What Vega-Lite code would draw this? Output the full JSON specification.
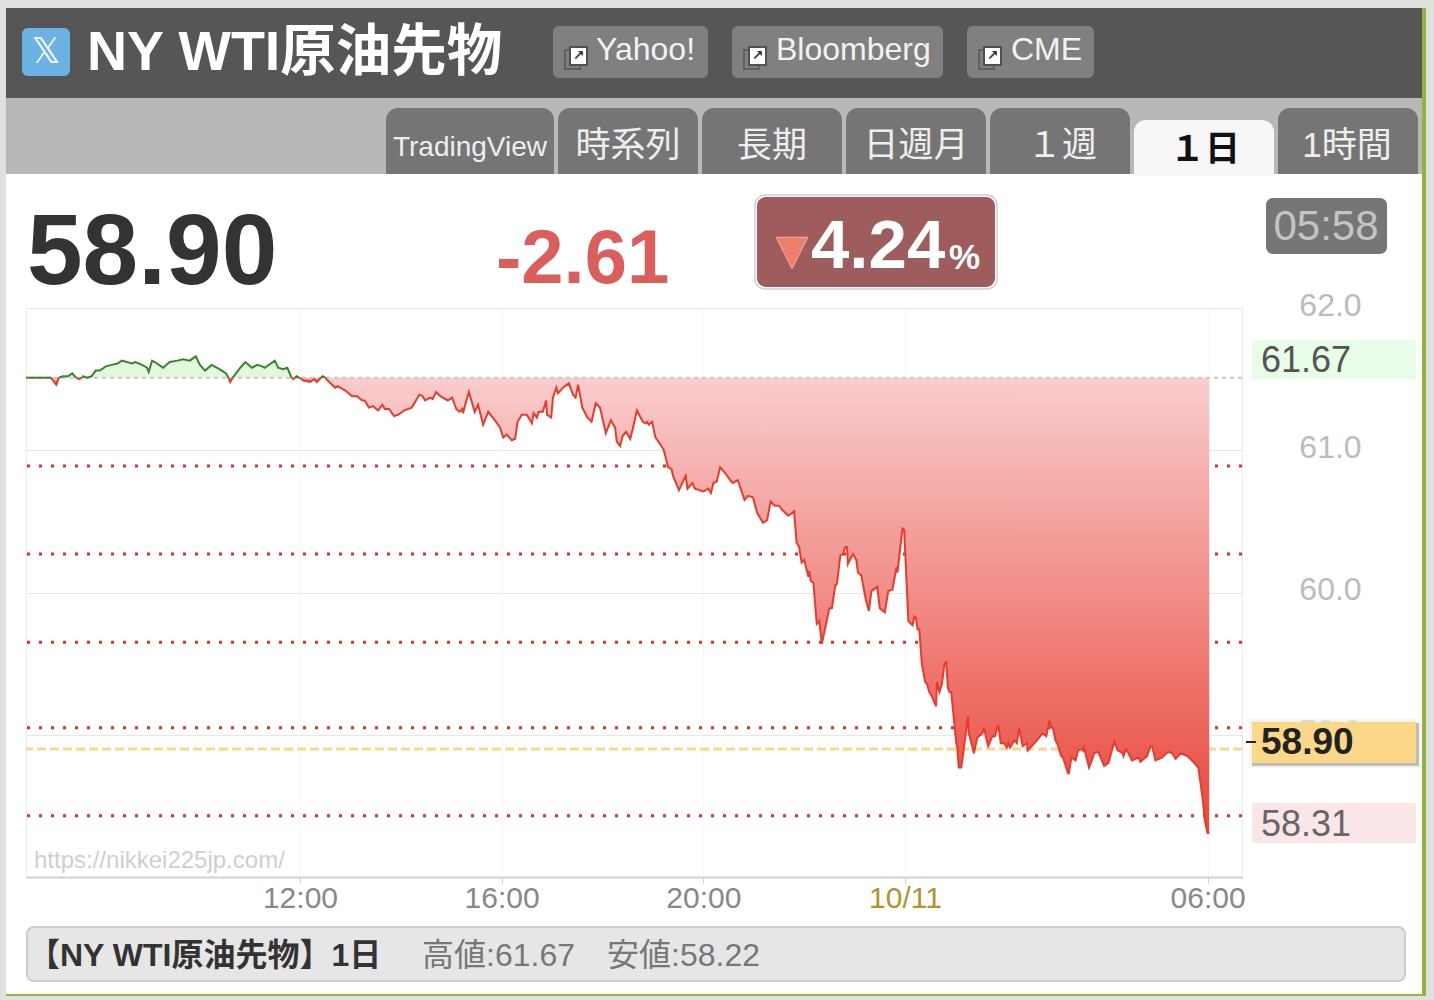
{"$schema":"https://vega.github.io/schema/vega-lite/v6.json","autosize":{"type":"none"},"width":1216,"height":569,"padding":{"left":26,"top":308,"right":192,"bottom":123},"background":"#ffffff","config":{"view":{"stroke":"#ececec"},"font":"Liberation Sans, Noto Sans CJK JP"},
"datasets":{"levels":[{"v":60.89},{"v":60.27},{"v":59.65},{"v":59.05},{"v":58.43}],"last":[{"v":58.90}],"prev":[{"v":61.51}],
"prices":[
{"t":"2025-10-10T06:34","p":61.51,"seg":1,"dir":"up"},{"t":"2025-10-10T07:00","p":61.51,"seg":1,"dir":"up"},{"t":"2025-10-10T07:04","p":61.51,"seg":1,"dir":"up"},
{"t":"2025-10-10T07:04","p":61.51,"seg":2,"dir":"down"},{"t":"2025-10-10T07:06","p":61.49,"seg":2,"dir":"down"},{"t":"2025-10-10T07:10","p":61.46,"seg":2,"dir":"down"},{"t":"2025-10-10T07:13","p":61.51,"seg":2,"dir":"down"},
{"t":"2025-10-10T07:13","p":61.51,"seg":3,"dir":"up"},{"t":"2025-10-10T07:18","p":61.52,"seg":3,"dir":"up"},{"t":"2025-10-10T07:24","p":61.52,"seg":3,"dir":"up"},{"t":"2025-10-10T07:29","p":61.54,"seg":3,"dir":"up"},{"t":"2025-10-10T07:32","p":61.52,"seg":3,"dir":"up"},{"t":"2025-10-10T07:34","p":61.51,"seg":3,"dir":"up"},
{"t":"2025-10-10T07:34","p":61.51,"seg":4,"dir":"down"},{"t":"2025-10-10T07:37","p":61.50,"seg":4,"dir":"down"},{"t":"2025-10-10T07:41","p":61.51,"seg":4,"dir":"down"},
{"t":"2025-10-10T07:41","p":61.51,"seg":5,"dir":"up"},{"t":"2025-10-10T07:42","p":61.52,"seg":5,"dir":"up"},{"t":"2025-10-10T07:46","p":61.51,"seg":5,"dir":"up"},{"t":"2025-10-10T07:52","p":61.52,"seg":5,"dir":"up"},{"t":"2025-10-10T07:57","p":61.56,"seg":5,"dir":"up"},{"t":"2025-10-10T08:02","p":61.56,"seg":5,"dir":"up"},{"t":"2025-10-10T08:09","p":61.59,"seg":5,"dir":"up"},{"t":"2025-10-10T08:16","p":61.60,"seg":5,"dir":"up"},{"t":"2025-10-10T08:23","p":61.61,"seg":5,"dir":"up"},{"t":"2025-10-10T08:28","p":61.63,"seg":5,"dir":"up"},{"t":"2025-10-10T08:34","p":61.62,"seg":5,"dir":"up"},{"t":"2025-10-10T08:40","p":61.61,"seg":5,"dir":"up"},{"t":"2025-10-10T08:44","p":61.62,"seg":5,"dir":"up"},{"t":"2025-10-10T08:52","p":61.60,"seg":5,"dir":"up"},{"t":"2025-10-10T08:58","p":61.58,"seg":5,"dir":"up"},{"t":"2025-10-10T09:00","p":61.55,"seg":5,"dir":"up"},{"t":"2025-10-10T09:04","p":61.63,"seg":5,"dir":"up"},{"t":"2025-10-10T09:10","p":61.61,"seg":5,"dir":"up"},{"t":"2025-10-10T09:17","p":61.58,"seg":5,"dir":"up"},{"t":"2025-10-10T09:25","p":61.62,"seg":5,"dir":"up"},{"t":"2025-10-10T09:34","p":61.63,"seg":5,"dir":"up"},{"t":"2025-10-10T09:41","p":61.64,"seg":5,"dir":"up"},{"t":"2025-10-10T09:49","p":61.63,"seg":5,"dir":"up"},{"t":"2025-10-10T09:56","p":61.66,"seg":5,"dir":"up"},{"t":"2025-10-10T10:01","p":61.60,"seg":5,"dir":"up"},{"t":"2025-10-10T10:07","p":61.56,"seg":5,"dir":"up"},{"t":"2025-10-10T10:15","p":61.60,"seg":5,"dir":"up"},{"t":"2025-10-10T10:21","p":61.58,"seg":5,"dir":"up"},{"t":"2025-10-10T10:27","p":61.56,"seg":5,"dir":"up"},{"t":"2025-10-10T10:32","p":61.54,"seg":5,"dir":"up"},{"t":"2025-10-10T10:35","p":61.51,"seg":5,"dir":"up"},
{"t":"2025-10-10T10:35","p":61.51,"seg":6,"dir":"down"},{"t":"2025-10-10T10:37","p":61.48,"seg":6,"dir":"down"},{"t":"2025-10-10T10:40","p":61.51,"seg":6,"dir":"down"},
{"t":"2025-10-10T10:40","p":61.51,"seg":7,"dir":"up"},{"t":"2025-10-10T10:49","p":61.58,"seg":7,"dir":"up"},{"t":"2025-10-10T10:55","p":61.62,"seg":7,"dir":"up"},{"t":"2025-10-10T11:03","p":61.58,"seg":7,"dir":"up"},{"t":"2025-10-10T11:09","p":61.60,"seg":7,"dir":"up"},{"t":"2025-10-10T11:15","p":61.59,"seg":7,"dir":"up"},{"t":"2025-10-10T11:18","p":61.58,"seg":7,"dir":"up"},{"t":"2025-10-10T11:30","p":61.63,"seg":7,"dir":"up"},{"t":"2025-10-10T11:34","p":61.58,"seg":7,"dir":"up"},{"t":"2025-10-10T11:40","p":61.57,"seg":7,"dir":"up"},{"t":"2025-10-10T11:45","p":61.58,"seg":7,"dir":"up"},{"t":"2025-10-10T11:50","p":61.51,"seg":7,"dir":"up"},
{"t":"2025-10-10T11:50","p":61.51,"seg":8,"dir":"down"},{"t":"2025-10-10T11:52","p":61.50,"seg":8,"dir":"down"},{"t":"2025-10-10T11:54","p":61.51,"seg":8,"dir":"down"},
{"t":"2025-10-10T11:54","p":61.51,"seg":9,"dir":"up"},{"t":"2025-10-10T11:56","p":61.52,"seg":9,"dir":"up"},{"t":"2025-10-10T11:59","p":61.51,"seg":9,"dir":"up"},
{"t":"2025-10-10T11:59","p":61.51,"seg":10,"dir":"down"},{"t":"2025-10-10T12:02","p":61.50,"seg":10,"dir":"down"},{"t":"2025-10-10T12:04","p":61.49,"seg":10,"dir":"down"},{"t":"2025-10-10T12:12","p":61.48,"seg":10,"dir":"down"},{"t":"2025-10-10T12:17","p":61.50,"seg":10,"dir":"down"},{"t":"2025-10-10T12:20","p":61.48,"seg":10,"dir":"down"},{"t":"2025-10-10T12:25","p":61.51,"seg":10,"dir":"down"},
{"t":"2025-10-10T12:25","p":61.51,"seg":11,"dir":"up"},{"t":"2025-10-10T12:27","p":61.52,"seg":11,"dir":"up"},{"t":"2025-10-10T12:30","p":61.51,"seg":11,"dir":"up"},
{"t":"2025-10-10T12:30","p":61.51,"seg":12,"dir":"down"},{"t":"2025-10-10T12:33","p":61.49,"seg":12,"dir":"down"},{"t":"2025-10-10T12:42","p":61.44,"seg":12,"dir":"down"},{"t":"2025-10-10T12:45","p":61.45,"seg":12,"dir":"down"},{"t":"2025-10-10T12:54","p":61.42,"seg":12,"dir":"down"},{"t":"2025-10-10T13:02","p":61.38,"seg":12,"dir":"down"},{"t":"2025-10-10T13:08","p":61.38,"seg":12,"dir":"down"},{"t":"2025-10-10T13:14","p":61.35,"seg":12,"dir":"down"},{"t":"2025-10-10T13:17","p":61.35,"seg":12,"dir":"down"},{"t":"2025-10-10T13:22","p":61.30,"seg":12,"dir":"down"},{"t":"2025-10-10T13:27","p":61.31,"seg":12,"dir":"down"},{"t":"2025-10-10T13:33","p":61.28,"seg":12,"dir":"down"},{"t":"2025-10-10T13:38","p":61.32,"seg":12,"dir":"down"},{"t":"2025-10-10T13:41","p":61.29,"seg":12,"dir":"down"},{"t":"2025-10-10T13:46","p":61.29,"seg":12,"dir":"down"},{"t":"2025-10-10T13:52","p":61.24,"seg":12,"dir":"down"},{"t":"2025-10-10T13:57","p":61.25,"seg":12,"dir":"down"},{"t":"2025-10-10T14:04","p":61.28,"seg":12,"dir":"down"},{"t":"2025-10-10T14:13","p":61.30,"seg":12,"dir":"down"},{"t":"2025-10-10T14:22","p":61.39,"seg":12,"dir":"down"},{"t":"2025-10-10T14:26","p":61.38,"seg":12,"dir":"down"},{"t":"2025-10-10T14:29","p":61.35,"seg":12,"dir":"down"},{"t":"2025-10-10T14:35","p":61.37,"seg":12,"dir":"down"},{"t":"2025-10-10T14:38","p":61.36,"seg":12,"dir":"down"},{"t":"2025-10-10T14:42","p":61.41,"seg":12,"dir":"down"},{"t":"2025-10-10T14:47","p":61.38,"seg":12,"dir":"down"},{"t":"2025-10-10T14:56","p":61.35,"seg":12,"dir":"down"},{"t":"2025-10-10T15:01","p":61.37,"seg":12,"dir":"down"},{"t":"2025-10-10T15:06","p":61.29,"seg":12,"dir":"down"},{"t":"2025-10-10T15:10","p":61.27,"seg":12,"dir":"down"},{"t":"2025-10-10T15:13","p":61.29,"seg":12,"dir":"down"},{"t":"2025-10-10T15:14","p":61.26,"seg":12,"dir":"down"},{"t":"2025-10-10T15:18","p":61.35,"seg":12,"dir":"down"},{"t":"2025-10-10T15:21","p":61.41,"seg":12,"dir":"down"},{"t":"2025-10-10T15:28","p":61.27,"seg":12,"dir":"down"},{"t":"2025-10-10T15:32","p":61.32,"seg":12,"dir":"down"},{"t":"2025-10-10T15:38","p":61.18,"seg":12,"dir":"down"},{"t":"2025-10-10T15:44","p":61.27,"seg":12,"dir":"down"},{"t":"2025-10-10T15:52","p":61.21,"seg":12,"dir":"down"},{"t":"2025-10-10T15:58","p":61.16,"seg":12,"dir":"down"},{"t":"2025-10-10T16:02","p":61.09,"seg":12,"dir":"down"},{"t":"2025-10-10T16:06","p":61.11,"seg":12,"dir":"down"},{"t":"2025-10-10T16:12","p":61.07,"seg":12,"dir":"down"},{"t":"2025-10-10T16:16","p":61.08,"seg":12,"dir":"down"},{"t":"2025-10-10T16:19","p":61.20,"seg":12,"dir":"down"},{"t":"2025-10-10T16:24","p":61.25,"seg":12,"dir":"down"},{"t":"2025-10-10T16:30","p":61.25,"seg":12,"dir":"down"},{"t":"2025-10-10T16:36","p":61.19,"seg":12,"dir":"down"},{"t":"2025-10-10T16:38","p":61.26,"seg":12,"dir":"down"},{"t":"2025-10-10T16:42","p":61.23,"seg":12,"dir":"down"},{"t":"2025-10-10T16:44","p":61.27,"seg":12,"dir":"down"},{"t":"2025-10-10T16:49","p":61.27,"seg":12,"dir":"down"},{"t":"2025-10-10T16:53","p":61.35,"seg":12,"dir":"down"},{"t":"2025-10-10T16:54","p":61.25,"seg":12,"dir":"down"},{"t":"2025-10-10T16:59","p":61.23,"seg":12,"dir":"down"},{"t":"2025-10-10T17:01","p":61.37,"seg":12,"dir":"down"},{"t":"2025-10-10T17:05","p":61.44,"seg":12,"dir":"down"},{"t":"2025-10-10T17:07","p":61.40,"seg":12,"dir":"down"},{"t":"2025-10-10T17:13","p":61.44,"seg":12,"dir":"down"},{"t":"2025-10-10T17:20","p":61.47,"seg":12,"dir":"down"},{"t":"2025-10-10T17:25","p":61.39,"seg":12,"dir":"down"},{"t":"2025-10-10T17:28","p":61.37,"seg":12,"dir":"down"},{"t":"2025-10-10T17:31","p":61.46,"seg":12,"dir":"down"},{"t":"2025-10-10T17:36","p":61.30,"seg":12,"dir":"down"},{"t":"2025-10-10T17:42","p":61.23,"seg":12,"dir":"down"},{"t":"2025-10-10T17:47","p":61.20,"seg":12,"dir":"down"},{"t":"2025-10-10T17:52","p":61.33,"seg":12,"dir":"down"},{"t":"2025-10-10T17:57","p":61.30,"seg":12,"dir":"down"},{"t":"2025-10-10T18:04","p":61.12,"seg":12,"dir":"down"},{"t":"2025-10-10T18:10","p":61.21,"seg":12,"dir":"down"},{"t":"2025-10-10T18:15","p":61.16,"seg":12,"dir":"down"},{"t":"2025-10-10T18:17","p":61.06,"seg":12,"dir":"down"},{"t":"2025-10-10T18:21","p":61.03,"seg":12,"dir":"down"},{"t":"2025-10-10T18:24","p":61.10,"seg":12,"dir":"down"},{"t":"2025-10-10T18:28","p":61.13,"seg":12,"dir":"down"},{"t":"2025-10-10T18:33","p":61.08,"seg":12,"dir":"down"},{"t":"2025-10-10T18:36","p":61.15,"seg":12,"dir":"down"},{"t":"2025-10-10T18:41","p":61.28,"seg":12,"dir":"down"},{"t":"2025-10-10T18:48","p":61.20,"seg":12,"dir":"down"},{"t":"2025-10-10T18:51","p":61.19,"seg":12,"dir":"down"},{"t":"2025-10-10T18:53","p":61.20,"seg":12,"dir":"down"},{"t":"2025-10-10T18:55","p":61.18,"seg":12,"dir":"down"},{"t":"2025-10-10T18:59","p":61.20,"seg":12,"dir":"down"},{"t":"2025-10-10T19:03","p":61.09,"seg":12,"dir":"down"},{"t":"2025-10-10T19:09","p":61.04,"seg":12,"dir":"down"},{"t":"2025-10-10T19:13","p":61.00,"seg":12,"dir":"down"},{"t":"2025-10-10T19:18","p":60.88,"seg":12,"dir":"down"},{"t":"2025-10-10T19:22","p":60.87,"seg":12,"dir":"down"},{"t":"2025-10-10T19:24","p":60.82,"seg":12,"dir":"down"},{"t":"2025-10-10T19:31","p":60.72,"seg":12,"dir":"down"},{"t":"2025-10-10T19:35","p":60.77,"seg":12,"dir":"down"},{"t":"2025-10-10T19:39","p":60.82,"seg":12,"dir":"down"},{"t":"2025-10-10T19:41","p":60.73,"seg":12,"dir":"down"},{"t":"2025-10-10T19:47","p":60.77,"seg":12,"dir":"down"},{"t":"2025-10-10T19:50","p":60.73,"seg":12,"dir":"down"},{"t":"2025-10-10T20:00","p":60.71,"seg":12,"dir":"down"},{"t":"2025-10-10T20:06","p":60.73,"seg":12,"dir":"down"},{"t":"2025-10-10T20:09","p":60.70,"seg":12,"dir":"down"},{"t":"2025-10-10T20:12","p":60.77,"seg":12,"dir":"down"},{"t":"2025-10-10T20:16","p":60.78,"seg":12,"dir":"down"},{"t":"2025-10-10T20:20","p":60.88,"seg":12,"dir":"down"},{"t":"2025-10-10T20:26","p":60.84,"seg":12,"dir":"down"},{"t":"2025-10-10T20:32","p":60.79,"seg":12,"dir":"down"},{"t":"2025-10-10T20:35","p":60.77,"seg":12,"dir":"down"},{"t":"2025-10-10T20:41","p":60.79,"seg":12,"dir":"down"},{"t":"2025-10-10T20:49","p":60.65,"seg":12,"dir":"down"},{"t":"2025-10-10T20:53","p":60.68,"seg":12,"dir":"down"},{"t":"2025-10-10T20:59","p":60.67,"seg":12,"dir":"down"},{"t":"2025-10-10T21:04","p":60.56,"seg":12,"dir":"down"},{"t":"2025-10-10T21:11","p":60.49,"seg":12,"dir":"down"},{"t":"2025-10-10T21:16","p":60.51,"seg":12,"dir":"down"},{"t":"2025-10-10T21:20","p":60.64,"seg":12,"dir":"down"},{"t":"2025-10-10T21:25","p":60.61,"seg":12,"dir":"down"},{"t":"2025-10-10T21:30","p":60.61,"seg":12,"dir":"down"},{"t":"2025-10-10T21:34","p":60.58,"seg":12,"dir":"down"},{"t":"2025-10-10T21:41","p":60.54,"seg":12,"dir":"down"},{"t":"2025-10-10T21:48","p":60.57,"seg":12,"dir":"down"},{"t":"2025-10-10T21:51","p":60.35,"seg":12,"dir":"down"},{"t":"2025-10-10T21:54","p":60.32,"seg":12,"dir":"down"},{"t":"2025-10-10T21:57","p":60.21,"seg":12,"dir":"down"},{"t":"2025-10-10T22:00","p":60.23,"seg":12,"dir":"down"},{"t":"2025-10-10T22:05","p":60.11,"seg":12,"dir":"down"},{"t":"2025-10-10T22:06","p":60.15,"seg":12,"dir":"down"},{"t":"2025-10-10T22:08","p":60.08,"seg":12,"dir":"down"},{"t":"2025-10-10T22:11","p":60.07,"seg":12,"dir":"down"},{"t":"2025-10-10T22:14","p":59.85,"seg":12,"dir":"down"},{"t":"2025-10-10T22:15","p":59.78,"seg":12,"dir":"down"},{"t":"2025-10-10T22:18","p":59.80,"seg":12,"dir":"down"},{"t":"2025-10-10T22:21","p":59.64,"seg":12,"dir":"down"},{"t":"2025-10-10T22:25","p":59.75,"seg":12,"dir":"down"},{"t":"2025-10-10T22:30","p":59.89,"seg":12,"dir":"down"},{"t":"2025-10-10T22:33","p":59.89,"seg":12,"dir":"down"},{"t":"2025-10-10T22:37","p":60.05,"seg":12,"dir":"down"},{"t":"2025-10-10T22:39","p":60.06,"seg":12,"dir":"down"},{"t":"2025-10-10T22:43","p":60.26,"seg":12,"dir":"down"},{"t":"2025-10-10T22:46","p":60.27,"seg":12,"dir":"down"},{"t":"2025-10-10T22:49","p":60.32,"seg":12,"dir":"down"},{"t":"2025-10-10T22:51","p":60.32,"seg":12,"dir":"down"},{"t":"2025-10-10T22:52","p":60.20,"seg":12,"dir":"down"},{"t":"2025-10-10T22:58","p":60.27,"seg":12,"dir":"down"},{"t":"2025-10-10T23:02","p":60.23,"seg":12,"dir":"down"},{"t":"2025-10-10T23:04","p":60.14,"seg":12,"dir":"down"},{"t":"2025-10-10T23:08","p":60.12,"seg":12,"dir":"down"},{"t":"2025-10-10T23:13","p":59.96,"seg":12,"dir":"down"},{"t":"2025-10-10T23:17","p":59.87,"seg":12,"dir":"down"},{"t":"2025-10-10T23:20","p":60.01,"seg":12,"dir":"down"},{"t":"2025-10-10T23:27","p":60.04,"seg":12,"dir":"down"},{"t":"2025-10-10T23:30","p":59.89,"seg":12,"dir":"down"},{"t":"2025-10-10T23:36","p":59.86,"seg":12,"dir":"down"},{"t":"2025-10-10T23:40","p":60.01,"seg":12,"dir":"down"},{"t":"2025-10-10T23:45","p":60.02,"seg":12,"dir":"down"},{"t":"2025-10-10T23:50","p":60.18,"seg":12,"dir":"down"},{"t":"2025-10-10T23:51","p":60.14,"seg":12,"dir":"down"},{"t":"2025-10-10T23:57","p":60.45,"seg":12,"dir":"down"},{"t":"2025-10-10T23:59","p":60.44,"seg":12,"dir":"down"},{"t":"2025-10-11T00:04","p":59.80,"seg":12,"dir":"down"},{"t":"2025-10-11T00:09","p":59.77,"seg":12,"dir":"down"},{"t":"2025-10-11T00:11","p":59.83,"seg":12,"dir":"down"},{"t":"2025-10-11T00:13","p":59.82,"seg":12,"dir":"down"},{"t":"2025-10-11T00:15","p":59.74,"seg":12,"dir":"down"},{"t":"2025-10-11T00:17","p":59.74,"seg":12,"dir":"down"},{"t":"2025-10-11T00:20","p":59.50,"seg":12,"dir":"down"},{"t":"2025-10-11T00:24","p":59.37,"seg":12,"dir":"down"},{"t":"2025-10-11T00:26","p":59.36,"seg":12,"dir":"down"},{"t":"2025-10-11T00:29","p":59.30,"seg":12,"dir":"down"},{"t":"2025-10-11T00:32","p":59.27,"seg":12,"dir":"down"},{"t":"2025-10-11T00:37","p":59.20,"seg":12,"dir":"down"},{"t":"2025-10-11T00:38","p":59.37,"seg":12,"dir":"down"},{"t":"2025-10-11T00:41","p":59.30,"seg":12,"dir":"down"},{"t":"2025-10-11T00:44","p":59.36,"seg":12,"dir":"down"},{"t":"2025-10-11T00:47","p":59.50,"seg":12,"dir":"down"},{"t":"2025-10-11T00:49","p":59.51,"seg":12,"dir":"down"},{"t":"2025-10-11T00:51","p":59.33,"seg":12,"dir":"down"},{"t":"2025-10-11T00:53","p":59.30,"seg":12,"dir":"down"},{"t":"2025-10-11T00:55","p":59.30,"seg":12,"dir":"down"},{"t":"2025-10-11T01:01","p":58.94,"seg":12,"dir":"down"},{"t":"2025-10-11T01:02","p":58.92,"seg":12,"dir":"down"},{"t":"2025-10-11T01:04","p":58.77,"seg":12,"dir":"down"},{"t":"2025-10-11T01:07","p":58.77,"seg":12,"dir":"down"},{"t":"2025-10-11T01:11","p":58.95,"seg":12,"dir":"down"},{"t":"2025-10-11T01:15","p":59.13,"seg":12,"dir":"down"},{"t":"2025-10-11T01:16","p":59.01,"seg":12,"dir":"down"},{"t":"2025-10-11T01:22","p":58.87,"seg":12,"dir":"down"},{"t":"2025-10-11T01:26","p":58.98,"seg":12,"dir":"down"},{"t":"2025-10-11T01:32","p":59.01,"seg":12,"dir":"down"},{"t":"2025-10-11T01:34","p":59.05,"seg":12,"dir":"down"},{"t":"2025-10-11T01:38","p":58.94,"seg":12,"dir":"down"},{"t":"2025-10-11T01:39","p":58.92,"seg":12,"dir":"down"},{"t":"2025-10-11T01:44","p":58.99,"seg":12,"dir":"down"},{"t":"2025-10-11T01:47","p":58.99,"seg":12,"dir":"down"},{"t":"2025-10-11T01:51","p":59.07,"seg":12,"dir":"down"},{"t":"2025-10-11T01:54","p":58.94,"seg":12,"dir":"down"},{"t":"2025-10-11T01:58","p":58.94,"seg":12,"dir":"down"},{"t":"2025-10-11T02:01","p":58.91,"seg":12,"dir":"down"},{"t":"2025-10-11T02:03","p":58.94,"seg":12,"dir":"down"},{"t":"2025-10-11T02:05","p":58.91,"seg":12,"dir":"down"},{"t":"2025-10-11T02:10","p":58.96,"seg":12,"dir":"down"},{"t":"2025-10-11T02:13","p":58.94,"seg":12,"dir":"down"},{"t":"2025-10-11T02:16","p":59.05,"seg":12,"dir":"down"},{"t":"2025-10-11T02:20","p":58.92,"seg":12,"dir":"down"},{"t":"2025-10-11T02:25","p":58.94,"seg":12,"dir":"down"},{"t":"2025-10-11T02:26","p":58.89,"seg":12,"dir":"down"},{"t":"2025-10-11T02:37","p":58.96,"seg":12,"dir":"down"},{"t":"2025-10-11T02:41","p":58.99,"seg":12,"dir":"down"},{"t":"2025-10-11T02:44","p":59.01,"seg":12,"dir":"down"},{"t":"2025-10-11T02:48","p":58.99,"seg":12,"dir":"down"},{"t":"2025-10-11T02:52","p":59.10,"seg":12,"dir":"down"},{"t":"2025-10-11T02:54","p":59.05,"seg":12,"dir":"down"},{"t":"2025-10-11T02:56","p":59.05,"seg":12,"dir":"down"},{"t":"2025-10-11T02:59","p":58.96,"seg":12,"dir":"down"},{"t":"2025-10-11T03:01","p":58.94,"seg":12,"dir":"down"},{"t":"2025-10-11T03:06","p":58.85,"seg":12,"dir":"down"},{"t":"2025-10-11T03:08","p":58.84,"seg":12,"dir":"down"},{"t":"2025-10-11T03:14","p":58.73,"seg":12,"dir":"down"},{"t":"2025-10-11T03:15","p":58.73,"seg":12,"dir":"down"},{"t":"2025-10-11T03:18","p":58.84,"seg":12,"dir":"down"},{"t":"2025-10-11T03:23","p":58.82,"seg":12,"dir":"down"},{"t":"2025-10-11T03:26","p":58.89,"seg":12,"dir":"down"},{"t":"2025-10-11T03:31","p":58.90,"seg":12,"dir":"down"},{"t":"2025-10-11T03:32","p":58.89,"seg":12,"dir":"down"},{"t":"2025-10-11T03:33","p":58.91,"seg":12,"dir":"down"},{"t":"2025-10-11T03:39","p":58.77,"seg":12,"dir":"down"},{"t":"2025-10-11T03:43","p":58.83,"seg":12,"dir":"down"},{"t":"2025-10-11T03:45","p":58.87,"seg":12,"dir":"down"},{"t":"2025-10-11T03:50","p":58.88,"seg":12,"dir":"down"},{"t":"2025-10-11T03:57","p":58.78,"seg":12,"dir":"down"},{"t":"2025-10-11T04:02","p":58.80,"seg":12,"dir":"down"},{"t":"2025-10-11T04:09","p":58.95,"seg":12,"dir":"down"},{"t":"2025-10-11T04:13","p":58.89,"seg":12,"dir":"down"},{"t":"2025-10-11T04:19","p":58.87,"seg":12,"dir":"down"},{"t":"2025-10-11T04:20","p":58.85,"seg":12,"dir":"down"},{"t":"2025-10-11T04:23","p":58.90,"seg":12,"dir":"down"},{"t":"2025-10-11T04:26","p":58.87,"seg":12,"dir":"down"},{"t":"2025-10-11T04:30","p":58.82,"seg":12,"dir":"down"},{"t":"2025-10-11T04:38","p":58.84,"seg":12,"dir":"down"},{"t":"2025-10-11T04:40","p":58.81,"seg":12,"dir":"down"},{"t":"2025-10-11T04:48","p":58.85,"seg":12,"dir":"down"},{"t":"2025-10-11T04:52","p":58.92,"seg":12,"dir":"down"},{"t":"2025-10-11T04:54","p":58.92,"seg":12,"dir":"down"},{"t":"2025-10-11T04:58","p":58.82,"seg":12,"dir":"down"},{"t":"2025-10-11T05:06","p":58.84,"seg":12,"dir":"down"},{"t":"2025-10-11T05:13","p":58.88,"seg":12,"dir":"down"},{"t":"2025-10-11T05:18","p":58.87,"seg":12,"dir":"down"},{"t":"2025-10-11T05:22","p":58.83,"seg":12,"dir":"down"},{"t":"2025-10-11T05:28","p":58.87,"seg":12,"dir":"down"},{"t":"2025-10-11T05:36","p":58.85,"seg":12,"dir":"down"},{"t":"2025-10-11T05:43","p":58.81,"seg":12,"dir":"down"},{"t":"2025-10-11T05:49","p":58.77,"seg":12,"dir":"down"},{"t":"2025-10-11T05:54","p":58.56,"seg":12,"dir":"down"},{"t":"2025-10-11T05:57","p":58.39,"seg":12,"dir":"down"},{"t":"2025-10-11T06:00","p":58.31,"seg":12,"dir":"down"},{"t":"2025-10-11T06:02","p":58.31,"seg":12,"dir":"down"}
]},
"resolve":{"scale":{"x":"independent","y":"independent"}},
"layer":[
{"data":{"values":[{}]},"layer":[
{"mark":{"type":"rect","fill":"#e0e0dc"},"encoding":{"x":{"datum":0,"axis":null,"scale":{"domain":[0,1434],"range":[-26,1408],"nice":false,"zero":false}},"x2":{"datum":6},"y":{"datum":0,"axis":null,"scale":{"domain":[0,1000],"range":[-308,692],"nice":false,"zero":false}},"y2":{"datum":1000}}},
{"mark":{"type":"rect","fill":"#e0e0dc"},"encoding":{"x":{"datum":0,"axis":null},"x2":{"datum":1434},"y":{"datum":0,"axis":null},"y2":{"datum":8}}},
{"mark":{"type":"rect","fill":"#e0e0dc"},"encoding":{"x":{"datum":1426,"axis":null},"x2":{"datum":1434},"y":{"datum":0,"axis":null},"y2":{"datum":1000}}},
{"mark":{"type":"rect","fill":"#e0e0dc"},"encoding":{"x":{"datum":0,"axis":null},"x2":{"datum":1434},"y":{"datum":996,"axis":null},"y2":{"datum":1000}}},
{"mark":{"type":"rect","fill":"#8fb53f"},"encoding":{"x":{"datum":1422,"axis":null},"x2":{"datum":1426},"y":{"datum":8,"axis":null},"y2":{"datum":996}}},
{"mark":{"type":"rect","fill":"#8fb53f"},"encoding":{"x":{"datum":6,"axis":null},"x2":{"datum":1426},"y":{"datum":994,"axis":null},"y2":{"datum":996}}},
{"mark":{"type":"rect","fill":"#565656"},"encoding":{"x":{"datum":6,"axis":null},"x2":{"datum":1422},"y":{"datum":8,"axis":null},"y2":{"datum":98}}},
{"mark":{"type":"rect","fill":"#b8b8b8"},"encoding":{"x":{"datum":6,"axis":null},"x2":{"datum":1422},"y":{"datum":98,"axis":null},"y2":{"datum":174}}},
{"mark":{"type":"rect","fill":"#6cb2e4","cornerRadius":6},"encoding":{"x":{"datum":22,"axis":null},"x2":{"datum":70},"y":{"datum":28,"axis":null},"y2":{"datum":76}}},
{"mark":{"type":"text","text":"𝕏","font":"DejaVu Sans","fontSize":36,"fill":"#ffffff","align":"center","baseline":"middle"},"encoding":{"x":{"datum":46,"axis":null},"y":{"datum":52,"axis":null}}},
{"mark":{"type":"text","text":"NY WTI原油先物","fontSize":55.5,"fontWeight":"bold","fill":"#ffffff","align":"left","baseline":"alphabetic"},"encoding":{"x":{"datum":87,"axis":null},"y":{"datum":70,"axis":null}}},

{"mark":{"type":"rect","fill":"#808080","cornerRadius":6},"encoding":{"x":{"datum":553,"axis":null},"x2":{"datum":708},"y":{"datum":26,"axis":null},"y2":{"datum":78}}},
{"mark":{"type":"rect","fill":"#808080","cornerRadius":6},"encoding":{"x":{"datum":732,"axis":null},"x2":{"datum":943},"y":{"datum":26,"axis":null},"y2":{"datum":78}}},
{"mark":{"type":"rect","fill":"#808080","cornerRadius":6},"encoding":{"x":{"datum":967,"axis":null},"x2":{"datum":1094},"y":{"datum":26,"axis":null},"y2":{"datum":78}}},
{"mark":{"type":"rect","fill":"#808080","stroke":"#555555","strokeWidth":1.5},"encoding":{"x":{"datum":565,"axis":null},"x2":{"datum":580},"y":{"datum":50,"axis":null},"y2":{"datum":69}}},
{"mark":{"type":"rect","fill":"#ffffff","stroke":"#505050","strokeWidth":2},"encoding":{"x":{"datum":570,"axis":null},"x2":{"datum":587},"y":{"datum":47,"axis":null},"y2":{"datum":65}}},
{"mark":{"type":"text","text":"↗","font":"DejaVu Sans","fontSize":14,"fontWeight":"bold","fill":"#333333","align":"center","baseline":"middle"},"encoding":{"x":{"datum":578.5,"axis":null},"y":{"datum":56,"axis":null}}},
{"mark":{"type":"rect","fill":"#808080","stroke":"#555555","strokeWidth":1.5},"encoding":{"x":{"datum":744,"axis":null},"x2":{"datum":759},"y":{"datum":50,"axis":null},"y2":{"datum":69}}},
{"mark":{"type":"rect","fill":"#ffffff","stroke":"#505050","strokeWidth":2},"encoding":{"x":{"datum":749,"axis":null},"x2":{"datum":766},"y":{"datum":47,"axis":null},"y2":{"datum":65}}},
{"mark":{"type":"text","text":"↗","font":"DejaVu Sans","fontSize":14,"fontWeight":"bold","fill":"#333333","align":"center","baseline":"middle"},"encoding":{"x":{"datum":757.5,"axis":null},"y":{"datum":56,"axis":null}}},
{"mark":{"type":"rect","fill":"#808080","stroke":"#555555","strokeWidth":1.5},"encoding":{"x":{"datum":979,"axis":null},"x2":{"datum":994},"y":{"datum":50,"axis":null},"y2":{"datum":69}}},
{"mark":{"type":"rect","fill":"#ffffff","stroke":"#505050","strokeWidth":2},"encoding":{"x":{"datum":984,"axis":null},"x2":{"datum":1001},"y":{"datum":47,"axis":null},"y2":{"datum":65}}},
{"mark":{"type":"text","text":"↗","font":"DejaVu Sans","fontSize":14,"fontWeight":"bold","fill":"#333333","align":"center","baseline":"middle"},"encoding":{"x":{"datum":992.5,"axis":null},"y":{"datum":56,"axis":null}}},
{"mark":{"type":"text","text":"Yahoo!","fontSize":32,"fill":"#f2f2f2","align":"left","baseline":"alphabetic"},"encoding":{"x":{"datum":596,"axis":null},"y":{"datum":60,"axis":null}}},
{"mark":{"type":"text","text":"Bloomberg","fontSize":32,"fill":"#f2f2f2","align":"left","baseline":"alphabetic"},"encoding":{"x":{"datum":776,"axis":null},"y":{"datum":60,"axis":null}}},
{"mark":{"type":"text","text":"CME","fontSize":32,"fill":"#f2f2f2","align":"left","baseline":"alphabetic"},"encoding":{"x":{"datum":1011,"axis":null},"y":{"datum":60,"axis":null}}},

{"mark":{"type":"rect","fill":"#757575","cornerRadiusTopLeft":12,"cornerRadiusTopRight":12},"encoding":{"x":{"datum":386,"axis":null},"x2":{"datum":554},"y":{"datum":108,"axis":null},"y2":{"datum":174}}},
{"mark":{"type":"rect","fill":"#757575","cornerRadiusTopLeft":12,"cornerRadiusTopRight":12},"encoding":{"x":{"datum":558,"axis":null},"x2":{"datum":698},"y":{"datum":108,"axis":null},"y2":{"datum":174}}},
{"mark":{"type":"rect","fill":"#757575","cornerRadiusTopLeft":12,"cornerRadiusTopRight":12},"encoding":{"x":{"datum":702,"axis":null},"x2":{"datum":842},"y":{"datum":108,"axis":null},"y2":{"datum":174}}},
{"mark":{"type":"rect","fill":"#757575","cornerRadiusTopLeft":12,"cornerRadiusTopRight":12},"encoding":{"x":{"datum":846,"axis":null},"x2":{"datum":986},"y":{"datum":108,"axis":null},"y2":{"datum":174}}},
{"mark":{"type":"rect","fill":"#757575","cornerRadiusTopLeft":12,"cornerRadiusTopRight":12},"encoding":{"x":{"datum":990,"axis":null},"x2":{"datum":1130},"y":{"datum":108,"axis":null},"y2":{"datum":174}}},
{"mark":{"type":"rect","fill":"#f7f7f7","cornerRadiusTopLeft":12,"cornerRadiusTopRight":12},"encoding":{"x":{"datum":1134,"axis":null},"x2":{"datum":1274},"y":{"datum":120,"axis":null},"y2":{"datum":176}}},
{"mark":{"type":"rect","fill":"#757575","cornerRadiusTopLeft":12,"cornerRadiusTopRight":12},"encoding":{"x":{"datum":1278,"axis":null},"x2":{"datum":1418},"y":{"datum":108,"axis":null},"y2":{"datum":174}}},
{"mark":{"type":"text","text":"TradingView","fontSize":28,"fill":"#eeeeee","align":"center","baseline":"alphabetic"},"encoding":{"x":{"datum":470,"axis":null},"y":{"datum":156,"axis":null}}},
{"mark":{"type":"text","text":"時系列","fontSize":35,"fill":"#eeeeee","align":"center","baseline":"alphabetic"},"encoding":{"x":{"datum":628,"axis":null},"y":{"datum":157,"axis":null}}},
{"mark":{"type":"text","text":"長期","fontSize":35,"fill":"#eeeeee","align":"center","baseline":"alphabetic"},"encoding":{"x":{"datum":772,"axis":null},"y":{"datum":157,"axis":null}}},
{"mark":{"type":"text","text":"日週月","fontSize":35,"fill":"#eeeeee","align":"center","baseline":"alphabetic"},"encoding":{"x":{"datum":916,"axis":null},"y":{"datum":157,"axis":null}}},
{"mark":{"type":"text","text":"１週","fontSize":35,"fill":"#eeeeee","align":"center","baseline":"alphabetic"},"encoding":{"x":{"datum":1062,"axis":null},"y":{"datum":157,"axis":null}}},
{"mark":{"type":"text","text":"１日","fontSize":35,"fontWeight":"bold","fill":"#111111","align":"center","baseline":"alphabetic"},"encoding":{"x":{"datum":1205,"axis":null},"y":{"datum":161,"axis":null}}},
{"mark":{"type":"text","text":"1時間","fontSize":35,"fill":"#eeeeee","align":"center","baseline":"alphabetic"},"encoding":{"x":{"datum":1347,"axis":null},"y":{"datum":157,"axis":null}}},

{"mark":{"type":"text","text":"58.90","fontSize":100,"fontWeight":"bold","fill":"#333333","align":"left","baseline":"alphabetic"},"encoding":{"x":{"datum":27,"axis":null},"y":{"datum":284,"axis":null}}},
{"mark":{"type":"text","text":"-2.61","fontSize":76,"fontWeight":"bold","fill":"#dc5e5c","align":"left","baseline":"alphabetic"},"encoding":{"x":{"datum":496,"axis":null},"y":{"datum":283,"axis":null}}},
{"mark":{"type":"rect","fill":"#ffffff","stroke":"#d0d0d0","strokeWidth":1.5,"cornerRadius":10},"encoding":{"x":{"datum":755,"axis":null},"x2":{"datum":997},"y":{"datum":195,"axis":null},"y2":{"datum":289}}},
{"mark":{"type":"rect","fill":"#9e5c5c","cornerRadius":9},"encoding":{"x":{"datum":757,"axis":null},"x2":{"datum":995},"y":{"datum":197,"axis":null},"y2":{"datum":287}}},
{"mark":{"type":"point","shape":"M-1,-1L1,-1L0,1Z","filled":true,"fill":"#ee7f6b","stroke":"#f4b0a4","strokeWidth":1,"opacity":1,"size":1000},"encoding":{"x":{"datum":792,"axis":null},"y":{"datum":253,"axis":null}}},
{"mark":{"type":"text","text":"4.24","fontSize":69,"fontWeight":"bold","fill":"#ffffff","align":"left","baseline":"alphabetic"},"encoding":{"x":{"datum":811,"axis":null},"y":{"datum":268,"axis":null}}},
{"mark":{"type":"text","text":"%","fontSize":35,"fontWeight":"bold","fill":"#ffffff","align":"left","baseline":"alphabetic"},"encoding":{"x":{"datum":949,"axis":null},"y":{"datum":269,"axis":null}}},
{"mark":{"type":"rect","fill":"#767676","cornerRadius":7},"encoding":{"x":{"datum":1266,"axis":null},"x2":{"datum":1387},"y":{"datum":198,"axis":null},"y2":{"datum":254}}},
{"mark":{"type":"text","text":"05:58","fontSize":42,"fill":"#c4c4c4","align":"center","baseline":"alphabetic"},"encoding":{"x":{"datum":1326,"axis":null},"y":{"datum":240,"axis":null}}},

{"mark":{"type":"rect","fill":"#e8fde8"},"encoding":{"x":{"datum":1252,"axis":null},"x2":{"datum":1416},"y":{"datum":340,"axis":null},"y2":{"datum":379}}},
{"mark":{"type":"text","text":"61.67","fontSize":36,"fill":"#555555","align":"left","baseline":"alphabetic"},"encoding":{"x":{"datum":1261,"axis":null},"y":{"datum":372,"axis":null}}},
{"mark":{"type":"rect","fill":"#fae6e6"},"encoding":{"x":{"datum":1252,"axis":null},"x2":{"datum":1416},"y":{"datum":803,"axis":null},"y2":{"datum":843}}},
{"mark":{"type":"text","text":"58.31","fontSize":36,"fill":"#666666","align":"left","baseline":"alphabetic"},"encoding":{"x":{"datum":1261,"axis":null},"y":{"datum":836,"axis":null}}},
{"mark":{"type":"rect","fill":"#eeeeee","opacity":0.6},"encoding":{"x":{"datum":1249,"axis":null},"x2":{"datum":1421},"y":{"datum":719,"axis":null},"y2":{"datum":768}}},
{"mark":{"type":"rect","fill":"#bdbdbd"},"encoding":{"x":{"datum":1252,"axis":null},"x2":{"datum":1419},"y":{"datum":723,"axis":null},"y2":{"datum":766}}},
{"mark":{"type":"rect","fill":"#fad888"},"encoding":{"x":{"datum":1252,"axis":null},"x2":{"datum":1416},"y":{"datum":722,"axis":null},"y2":{"datum":763}}},
{"mark":{"type":"text","text":"58.90","fontSize":37,"fontWeight":"bold","fill":"#222222","align":"left","baseline":"alphabetic"},"encoding":{"x":{"datum":1261,"axis":null},"y":{"datum":754,"axis":null}}},
{"mark":{"type":"rect","fill":"#222222"},"encoding":{"x":{"datum":1246,"axis":null},"x2":{"datum":1256},"y":{"datum":741,"axis":null},"y2":{"datum":743}}},

{"mark":{"type":"text","text":"https://nikkei225jp.com/","fontSize":24,"fill":"#cfcfcf","align":"left","baseline":"alphabetic"},"encoding":{"x":{"datum":34,"axis":null},"y":{"datum":868,"axis":null}}},
{"mark":{"type":"rect","fill":"#e6e6e6","stroke":"#cccccc","strokeWidth":2,"cornerRadius":7},"encoding":{"x":{"datum":27,"axis":null},"x2":{"datum":1405},"y":{"datum":927,"axis":null},"y2":{"datum":981}}},
{"mark":{"type":"text","text":"【NY WTI原油先物】1日","fontSize":32,"fontWeight":"bold","fill":"#333333","align":"left","baseline":"alphabetic"},"encoding":{"x":{"datum":28,"axis":null},"y":{"datum":966,"axis":null}}},
{"mark":{"type":"text","text":"高値:61.67","fontSize":32,"fill":"#777777","align":"left","baseline":"alphabetic"},"encoding":{"x":{"datum":422,"axis":null},"y":{"datum":966,"axis":null}}},
{"mark":{"type":"text","text":"安値:58.22","fontSize":32,"fill":"#777777","align":"left","baseline":"alphabetic"},"encoding":{"x":{"datum":607,"axis":null},"y":{"datum":966,"axis":null}}}
]},
{"layer":[
{"data":{"name":"levels"},"mark":{"type":"rule","stroke":"#f02a1c","strokeWidth":3,"strokeDash":[3,9]},"encoding":{"y":{"field":"v","type":"quantitative","scale":{"domain":[58,62],"nice":false,"zero":false},"axis":{"orient":"right","values":[59,60,61,62],"format":".1f","grid":true,"gridColor":"#e6e6e6","gridWidth":1,"ticks":false,"domain":false,"title":null,"labelColor":"#bbbbbb","labelFontSize":32,"labelFont":"Liberation Sans","labelPadding":88,"labelAlign":"center","labelBaseline":"middle","labelOffset":-3,"labelBound":false,"labelFlush":false}}}},
{"data":{"name":"last"},"mark":{"type":"rule","stroke":"#fad888","strokeWidth":3,"strokeDash":[9,4]},"encoding":{"y":{"field":"v","type":"quantitative","scale":{"domain":[58,62],"nice":false,"zero":false},"axis":{"title":null}}}},
{"data":{"name":"prices"},"transform":[{"filter":{"field":"dir","equal":"down"}}],"mark":{"type":"area","interpolate":"linear","fill":{"gradient":"linear","x1":0,"y1":0,"x2":0,"y2":1,"stops":[{"offset":0,"color":"#f9cdcd"},{"offset":1,"color":"#e8463a"}]}},"encoding":{"x":{"field":"t","type":"temporal","scale":{"domain":["2025-10-10T06:34","2025-10-11T06:41"],"nice":false},"axis":{"values":["2025-10-10T12:00","2025-10-10T16:00","2025-10-10T20:00","2025-10-11T00:00","2025-10-11T06:00"],"labelExpr":"timeFormat(datum.value,'%H:%M')=='00:00'?'10/11':timeFormat(datum.value,'%H:%M')","labelFontSize":30,"labelFont":"Liberation Sans","labelColor":{"condition":{"test":"hours(datum.value)==0","value":"#b5932a"},"value":"#888888"},"labelPadding":0,"tickColor":"#c5d3e0","tickSize":6,"tickWidth":1,"domainColor":"#c5d3e0","domainWidth":2,"grid":true,"gridColor":"#f8f8f8","title":null,"labelFlush":false,"labelOverlap":false,"labelBound":false}},"y":{"field":"p","type":"quantitative","scale":{"domain":[58,62],"nice":false,"zero":false},"axis":{"title":null}},"y2":{"datum":61.51},"detail":{"field":"seg"}}},
{"data":{"name":"prices"},"transform":[{"filter":{"field":"dir","equal":"up"}}],"mark":{"type":"area","interpolate":"linear","fill":"#e2f8dc"},"encoding":{"x":{"field":"t","type":"temporal","scale":{"domain":["2025-10-10T06:34","2025-10-11T06:41"],"nice":false},"axis":{"title":null}},"y":{"field":"p","type":"quantitative","scale":{"domain":[58,62],"nice":false,"zero":false},"axis":{"title":null}},"y2":{"datum":61.51},"detail":{"field":"seg"}}},
{"data":{"name":"prev"},"mark":{"type":"rule","stroke":"#c8c8c8","strokeWidth":2,"strokeDash":[4,4]},"encoding":{"y":{"field":"v","type":"quantitative","scale":{"domain":[58,62],"nice":false,"zero":false},"axis":{"title":null}}}},
{"data":{"name":"prices"},"transform":[{"filter":{"field":"dir","equal":"down"}}],"mark":{"type":"line","interpolate":"linear","stroke":"#ea3a2a","strokeWidth":2},"encoding":{"x":{"field":"t","type":"temporal","scale":{"domain":["2025-10-10T06:34","2025-10-11T06:41"],"nice":false},"axis":{"title":null}},"y":{"field":"p","type":"quantitative","scale":{"domain":[58,62],"nice":false,"zero":false},"axis":{"title":null}},"detail":{"field":"seg"}}},
{"data":{"name":"prices"},"transform":[{"filter":{"field":"dir","equal":"up"}}],"mark":{"type":"line","interpolate":"linear","stroke":"#3a8527","strokeWidth":2},"encoding":{"x":{"field":"t","type":"temporal","scale":{"domain":["2025-10-10T06:34","2025-10-11T06:41"],"nice":false},"axis":{"title":null}},"y":{"field":"p","type":"quantitative","scale":{"domain":[58,62],"nice":false,"zero":false},"axis":{"title":null}},"detail":{"field":"seg"}}}
]}
]}
